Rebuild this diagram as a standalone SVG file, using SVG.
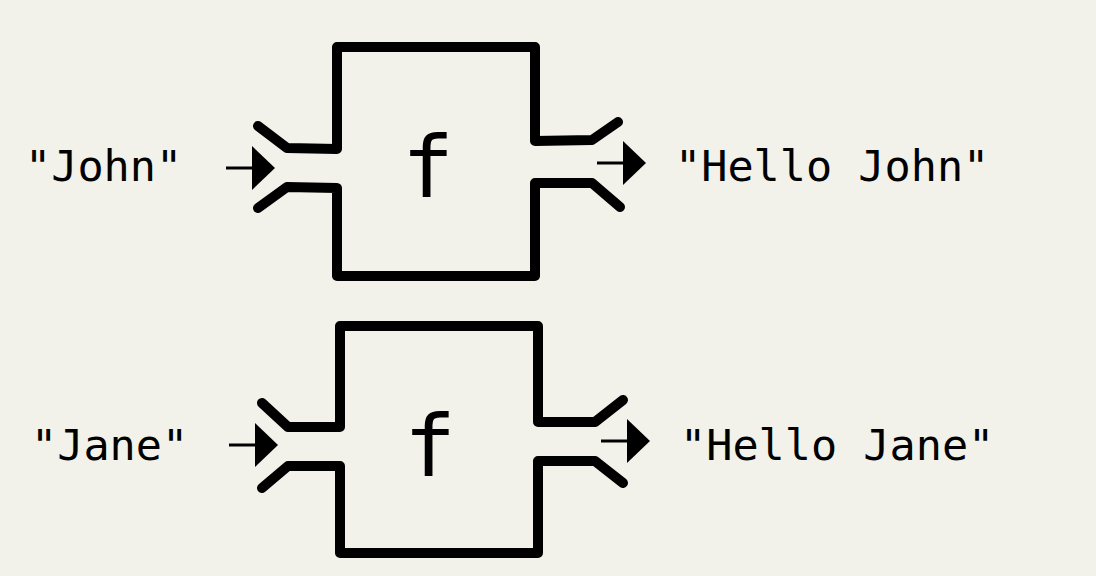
<svg xmlns="http://www.w3.org/2000/svg" width="1096" height="576" viewBox="0 0 1096 576">
<style>
.bg{fill:#f2f1ea}
.box{fill:none;stroke:#000;stroke-width:10;stroke-linecap:round;stroke-linejoin:round}
.lbl{font-family:"DejaVu Sans Mono","Liberation Mono",monospace;font-size:43.5px;fill:#000}
.fn{font-family:"DejaVu Sans Mono","Liberation Mono",monospace;font-size:86px;fill:#000;text-anchor:middle}
.arr{stroke:#000;stroke-width:3;fill:none}
</style>
<defs>
<marker id="head" markerUnits="userSpaceOnUse" viewBox="0 0 23 44" refX="0" refY="22" markerWidth="23" markerHeight="44" orient="auto">
<path d="M0,0 L23,22 L0,44 Z" fill="#000"/>
</marker>
</defs>
<rect class="bg" x="0" y="0" width="1096" height="576"/>
<g id="in-john"><text class="lbl" x="25" y="181">"John"</text></g>
<g id="f-john">
<path class="box" d="M258,126 L287,148 L337,149 L337,47 L535,47 L535,141 L592,140 L618,122"/>
<path class="box" d="M258,208 L287,187 L337,188 L337,276 L535,276 L535,183 L592,183 L620,207"/>
<text class="fn" x="428" y="197">f</text>
</g>
<g id="out-john"><text class="lbl" x="675" y="181">"Hello John"</text></g>
<g id="in-jane"><text class="lbl" x="31" y="460">"Jane"</text></g>
<g id="f-jane">
<path class="box" d="M262,403 L288,427 L340,427 L340,326 L538,326 L538,422 L595,422 L623,400"/>
<path class="box" d="M262,488 L288,466 L340,466 L340,553 L538,553 L538,461 L595,461 L623,483"/>
<text class="fn" x="430" y="476">f</text>
</g>
<g id="out-jane"><text class="lbl" x="680" y="460">"Hello Jane"</text></g>
<g id="connectors">
<line class="arr" x1="226" y1="168" x2="252" y2="168" marker-end="url(#head)"/>
<line class="arr" x1="597" y1="163" x2="623" y2="163" marker-end="url(#head)"/>
<line class="arr" x1="229" y1="445" x2="255" y2="445" marker-end="url(#head)"/>
<line class="arr" x1="601" y1="441" x2="627" y2="441" marker-end="url(#head)"/>
</g>
</svg>
